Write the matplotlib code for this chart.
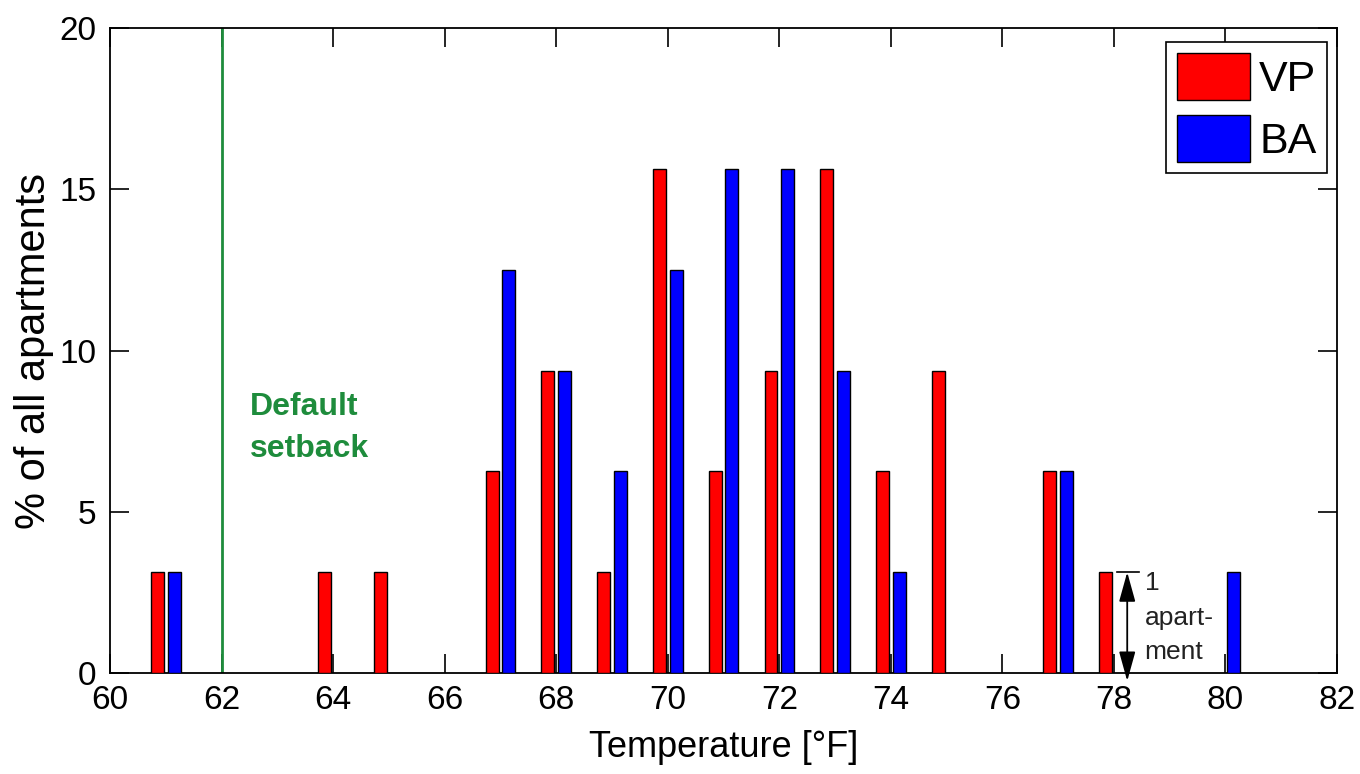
import numpy as np
import matplotlib
matplotlib.use("Agg")
import matplotlib.pyplot as plt

plt.rcParams['font.family'] = ['Liberation Sans', 'DejaVu Sans']

# temperature setpoints [F] and share of apartments [%]
temps_vp = [61, 64, 65, 67, 68, 69, 70, 71, 72, 73, 74, 75, 77, 78]
share_vp = [3.125, 3.125, 3.125, 6.25, 9.375, 3.125, 15.625, 6.25, 9.375, 15.625, 6.25, 9.375, 6.25, 3.125]

temps_ba = [61, 67, 68, 69, 70, 71, 72, 73, 74, 77, 80]
share_ba = [3.125, 12.5, 9.375, 6.25, 12.5, 15.625, 15.625, 9.375, 3.125, 6.25, 3.125]

setback = 62
xticks = list(range(60, 83, 2))
yticks = [0, 5, 10, 15, 20]

fig = plt.figure(figsize=(13.6, 7.74), dpi=100)
ax = fig.add_axes([0.081, 0.1305, 0.902, 0.8333])

w = 0.23
ax.bar(np.array(temps_vp) - 0.15, share_vp, width=w, color='#ff0000', edgecolor='black', linewidth=1, label='VP', zorder=3)
ax.bar(np.array(temps_ba) + 0.15, share_ba, width=w, color='#0000ff', edgecolor='black', linewidth=1, label='BA', zorder=3)

# default setback line
ax.axvline(setback, color='#1e8c3c', linewidth=2, zorder=2)
ax.text(setback + 0.5, 7.6, 'Default\nsetback', color='#1e8c3c', fontsize=23, fontweight='bold',
        ha='left', va='center', linespacing=1.5)

# "1 apartment" marker
ax.plot([78.05, 78.45], [3.125, 3.125], color='black', linewidth=1.2, zorder=4)
ax.annotate('', xy=(78.24, -0.25), xytext=(78.24, 3.125), annotation_clip=False,
            arrowprops=dict(arrowstyle='<|-|>,head_length=0.65,head_width=0.18', color='black', lw=1.3,
                            mutation_scale=28, shrinkA=0, shrinkB=0), zorder=4)
ax.text(78.55, 3.15, '1\napart-\nment', fontsize=19, color='#222222', ha='left', va='top', linespacing=1.55)

ax.set_xlim(60, 82)
ax.set_ylim(0, 20)
ax.set_xticks(xticks)
ax.set_yticks(yticks)
ax.tick_params(direction='in', length=14, width=1.2, top=True, right=True, labelsize=24)
ax.tick_params(axis='x', pad=9)
ax.tick_params(axis='y', pad=10)
for s in ax.spines.values():
    s.set_linewidth(1.3)

ax.set_xlabel('Temperature [°F]', fontsize=26, labelpad=10)
ax.set_ylabel('% of all apartments', fontsize=30, labelpad=4)

leg = ax.legend(loc='upper right', fontsize=31, fancybox=False, edgecolor='black', framealpha=1,
                handlelength=1.7, handleheight=1.3, borderpad=0.25, labelspacing=0.35,
                handletextpad=0.2, bbox_to_anchor=(0.992, 0.978), borderaxespad=0)
leg.get_frame().set_linewidth(1.2)

fig.savefig('out.png', dpi=100)
